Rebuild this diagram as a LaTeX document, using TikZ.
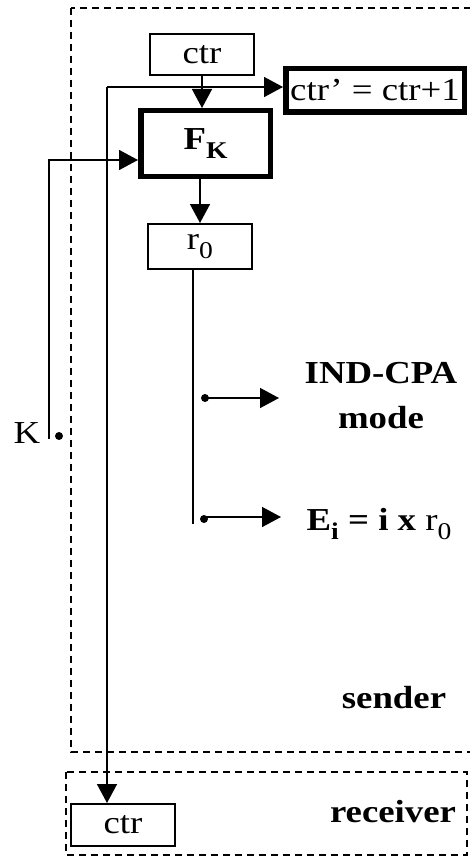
\documentclass[tikz,border=0pt]{standalone}
\usepackage{fontspec}
\setmainfont{Liberation Serif}[FakeStretch=1.15]
\usetikzlibrary{arrows.meta,positioning}
\newcommand{\subx}[1]{\raisebox{-9pt}{\fontsize{24}{24}\selectfont #1}}

\begin{document}
\begin{tikzpicture}[x=1pt, y=-1pt,
    box/.style={rectangle, draw, line width=1.7pt, inner sep=0pt,
      font=\fontsize{32}{38}\selectfont},
    thickbox/.style={box, line width=5.5pt},
    region/.style={draw, line width=1.5pt, dash pattern=on 7pt off 5pt},
    lbl/.style={font=\fontsize{32}{45}\selectfont\bfseries, align=center, inner sep=0pt},
    dot/.style={circle, fill, inner sep=0pt, minimum size=8pt},
    arr/.style={-{Triangle[length=19pt, width=20pt]}, line width=1.5pt},
    wire/.style={line width=1.5pt}
  ]
    \useasboundingbox (0,0) rectangle (469,856);
    % Sender and receiver regions
    \draw[region] (71,8) rectangle (475,752);
    \draw[region] (66,772) rectangle (467,855);
    % Counter and PRF
    \node[box, minimum width=104.3pt, minimum height=41.3pt] (ctr) at (202,54.5) {ctr};
    \node[thickbox, minimum width=178.5pt, minimum height=43.5pt] (ctrnext) at (375,90.5)
      {ctr’ = ctr+1};
    \node[thickbox, minimum width=129.5pt, minimum height=65.5pt] (fk) at (205.5,143.5)
      {\textbf{F}\subx{\textbf{K}}};
    \node[box, minimum width=104.3pt, minimum height=45.3pt] (r0) at (200,246.5)
      {r\subx{0}};
    % Receiver counter
    \node[box, minimum width=104.3pt, minimum height=42.3pt] (rctr) at (123,825) {ctr};
    % Key input
    \node[lbl, font=\fontsize{32}{38}\selectfont, anchor=base] (klbl) at (27,443) {K};
    \node[dot] (kdot) at (59,436) {};
    \coordinate (kend) at (49,439);
    \coordinate (kturn) at (49,160);
    % Counter split
    \coordinate (split) at (107,87);
    % Outputs of r0
    \coordinate (rtap) at (193,524);
    \node[dot] (d1) at (205,398) {};
    \node[dot] (d2) at (204,519) {};
    \coordinate (m1) at (279,398);
    \coordinate (m2) at (281,517);
    % Labels
    \node[lbl] (indcpa) at (381,396) {IND-CPA\\mode};
    \node[lbl, anchor=base] (ei) at (379,530)
      {E\subx{i} = i x \mdseries r\subx{0}};
    \node[lbl, anchor=base] (sender) at (394,708) {sender};
    \node[lbl, anchor=base] (receiver) at (393,822) {receiver};
    % Arrows
    \draw[arr] (ctr.south) -- (ctr.south |- fk.north);
    \draw[arr] (fk.south -| r0.north) -- (r0.north);
    \draw[arr] (split) -- (split -| ctrnext.west);
    \draw[arr] (split) -- (split |- rctr.north);
    \draw[arr] (kend) -- (kturn) -- (kturn -| fk.west);
    \draw[wire] (rtap |- r0.south) -- (rtap);
    \draw[arr] (d1.center) -- (m1);
    \draw[arr] (d2.center |- m2) -- (m2);
  \end{tikzpicture}
\end{document}
